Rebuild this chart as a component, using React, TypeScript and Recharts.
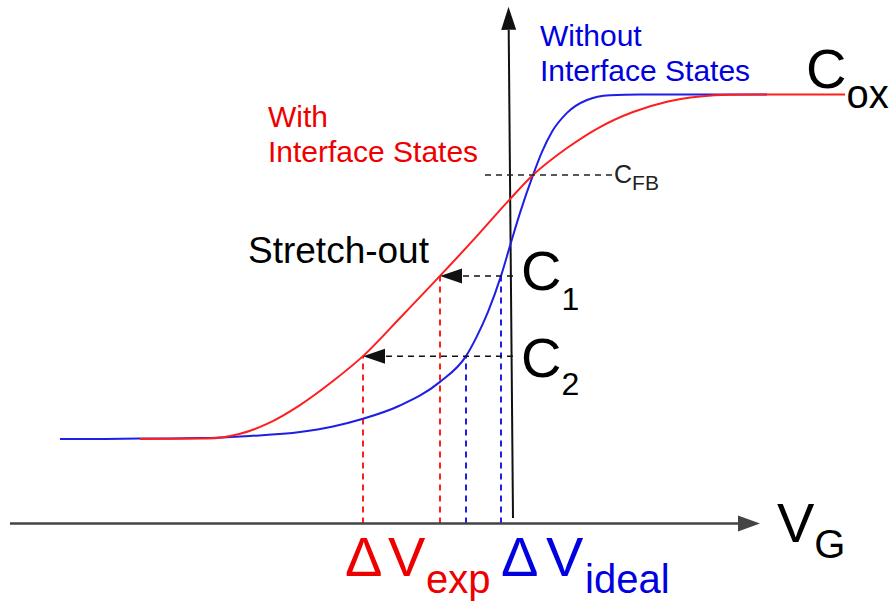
import React from 'react';
import { ComposedChart, Line, XAxis, YAxis, ReferenceLine, Customized } from 'recharts';

// Gate voltage V_G (arbitrary volts) and capacitance normalised to C_ox
const idealV = [-4.53, -4.13, -3.63, -3.13, -2.63, -2.13, -1.8, -1.5, -1.13, -0.73, -0.47, -0.37, -0.25, -0.12, -0.03, 0.07, 0.2, 0.29, 0.39, 0.54, 0.74, 0.97, 1.27, 1.87, 2.54];
const idealC = [0.197, 0.197, 0.198, 0.199, 0.204, 0.213, 0.226, 0.244, 0.275, 0.33, 0.39, 0.432, 0.493, 0.577, 0.647, 0.724, 0.812, 0.866, 0.913, 0.957, 0.987, 0.998, 1.0, 1.0, 1.0];

const expV = [-3.73, -3.06, -2.73, -2.46, -2.13, -1.8, -1.5, -1.13, -0.73, -0.38, -0.03, 0.2, 0.54, 0.87, 1.2, 1.54, 1.87, 2.17, 2.67, 3.32];
const expC = [0.197, 0.198, 0.209, 0.232, 0.276, 0.332, 0.39, 0.479, 0.577, 0.665, 0.756, 0.812, 0.875, 0.924, 0.959, 0.983, 0.995, 0.999, 1.0, 1.0];

// flat-band level and the two probe levels C1, C2
const cFB = 0.812;
const levels = [0.577, 0.39];
const expAtLevel = [-0.73, -1.5];
const idealAtLevel = [-0.12, -0.47];

const ideal = idealV.map((v, i) => ({ v, c: idealC[i] }));
const measured = expV.map((v, i) => ({ v, c: expC[i] }));

const RED = '#ff1e1e';
const BLUE = '#1e1ee6';
const RED_TXT = '#ee0000';
const BLUE_TXT = '#0000e0';
const FONT = "'Liberation Sans', Arial, sans-serif";

// line with a filled triangular head at (x2, y2)
const arrow = (color: string, width: number, dash: string | undefined, head: number, half: number) =>
  (p: any) => {
    const { x1, y1, x2, y2 } = p;
    const dx = x2 - x1;
    const dy = y2 - y1;
    const len = Math.hypot(dx, dy) || 1;
    const ux = dx / len;
    const uy = dy / len;
    const bx = x2 - ux * head;
    const by = y2 - uy * head;
    const pts = `${x2},${y2} ${bx - uy * half},${by + ux * half} ${bx + uy * half},${by - ux * half}`;
    return (
      <g>
        <line x1={x1} y1={y1} x2={bx} y2={by} stroke={color} strokeWidth={width} strokeDasharray={dash} />
        <polygon points={pts} fill={color} />
      </g>
    );
  };

function Labels() {
  return (
    <g fontFamily={FONT}>
      <text x={540} y={46} fontSize={30} fill={BLUE_TXT}>Without</text>
      <text x={540} y={81} fontSize={30} fill={BLUE_TXT}>Interface States</text>
      <text x={268} y={127} fontSize={30} fill={RED_TXT}>With</text>
      <text x={268} y={162} fontSize={30} fill={RED_TXT}>Interface States</text>
      <text x={248} y={263} fontSize={37} fill="#000">Stretch-out</text>

      <text x={806} y={88} fontSize={56} fill="#000">C<tspan fontSize={40} dy={20}>ox</tspan></text>
      <text x={614} y={183} fontSize={25} fill="#222">C<tspan fontSize={21} dy={7}>FB</tspan></text>
      <text x={521} y={290} fontSize={56} fill="#000">C<tspan fontSize={32} dy={20}>1</tspan></text>
      <text x={521} y={377} fontSize={56} fill="#000">C<tspan fontSize={32} dy={18}>2</tspan></text>
      <text x={777} y={542} fontSize={56} fill="#000">V<tspan fontSize={40} dy={16}>G</tspan></text>

      <text y={576} fontSize={56} fill={RED_TXT}>
        <tspan x={345}>Δ</tspan>
        <tspan x={388}>V</tspan>
        <tspan x={426} fontSize={40} dy={17}>exp</tspan>
      </text>
      <text y={576} fontSize={56} fill={BLUE_TXT}>
        <tspan x={501}>Δ</tspan>
        <tspan x={546}>V</tspan>
        <tspan x={585} fontSize={40} dy={17}>ideal</tspan>
      </text>
    </g>
  );
}

export default function App() {
  return (
    <div style={{ position: 'absolute', left: 0, top: 0, background: '#fff' }}>
      <ComposedChart width={895} height={605} margin={{ top: 0, right: 0, bottom: 0, left: 0 }}>
        <XAxis type="number" dataKey="v" domain={[-5.13, 3.82]} allowDataOverflow hide />
        <YAxis type="number" dataKey="c" domain={[-0.19, 1.22]} allowDataOverflow hide />

        {/* dotted drops from each curve to the V_G axis */}
        {levels.map((c, i) => (
          <ReferenceLine key={`re${i}`} ifOverflow="visible" stroke={RED} strokeWidth={2} strokeDasharray="6 5"
            segment={[{ x: expAtLevel[i], y: 0 }, { x: expAtLevel[i], y: c }]} />
        ))}
        {levels.map((c, i) => (
          <ReferenceLine key={`ri${i}`} ifOverflow="visible" stroke={BLUE} strokeWidth={2} strokeDasharray="6 5"
            segment={[{ x: idealAtLevel[i], y: 0 }, { x: idealAtLevel[i], y: c }]} />
        ))}

        {/* axes */}
        <ReferenceLine ifOverflow="visible" segment={[{ x: -5.03, y: 0 }, { x: 2.47, y: 0 }]}
          shape={arrow('#444', 2.5, undefined, 22, 8)} />
        <ReferenceLine ifOverflow="visible" segment={[{ x: 0, y: 0.013 }, { x: -0.045, y: 1.204 }]}
          shape={arrow('#111', 2, undefined, 23, 7.5)} />

        <Line data={ideal} dataKey="c" type="monotone" stroke={BLUE} strokeWidth={2} dot={false} activeDot={false} isAnimationActive={false} />
        <Line data={measured} dataKey="c" type="monotone" stroke={RED} strokeWidth={2} dot={false} activeDot={false} isAnimationActive={false} />

        {/* C_FB marker and the stretch-out arrows */}
        <ReferenceLine ifOverflow="visible" stroke="#222" strokeWidth={1.5} strokeDasharray="6 5"
          segment={[{ x: -0.28, y: cFB }, { x: 1.0, y: cFB }]} />
        {levels.map((c, i) => (
          <ReferenceLine key={`ar${i}`} ifOverflow="visible"
            segment={[{ x: 0, y: c }, { x: expAtLevel[i], y: c }]}
            shape={arrow('#111', 1.5, '6 5', 22, 7.5)} />
        ))}

        <Customized component={Labels} />
      </ComposedChart>
    </div>
  );
}
